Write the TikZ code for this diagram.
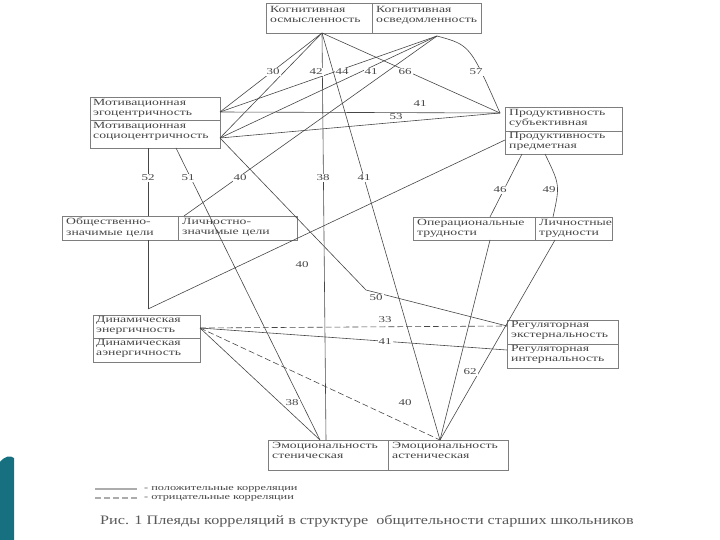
\documentclass[tikz,border=0pt]{standalone}
\usepackage{fontspec}
\setmainfont{Liberation Serif}
\newfontfamily\boxfont[FakeStretch=1.45]{Liberation Serif}
\newfontfamily\capfont[FakeStretch=1.25]{Liberation Serif}
\definecolor{ink}{RGB}{70,70,70}
\definecolor{teal1}{RGB}{22,112,128}
\begin{document}
\begin{tikzpicture}[x=1bp,y=-1bp,
  bx/.style={draw=ink!70,line width=0.7pt},
  txt/.style={font=\boxfont\fontsize{9.5}{10.5}\selectfont,text=ink,align=left,anchor=north west,inner sep=0pt},
  cn/.style={draw=ink,line width=0.6pt},
  ng/.style={draw=ink,line width=0.6pt,dash pattern=on 6pt off 3pt},
  num/.style={font=\boxfont\fontsize{9}{9}\selectfont,text=ink,fill=white,inner sep=1pt}]
\useasboundingbox (0,0) rectangle (720,540);
% teal decoration
\fill[teal1] (0,462) .. controls (5,456) and (10,455) .. (14,458) -- (14,540) -- (0,540) -- cycle;
% boxes
\draw[bx] (266,3) rectangle (481,33); \draw[bx] (372,3) -- (372,33);
\node[txt] (tKO) at (270,6) {Когнитивная\\осмысленность};
\node[txt] (tKV) at (376,6) {Когнитивная\\осведомленность};
\draw[bx] (90,97) rectangle (220,148); \draw[bx] (90,120) -- (220,120);
\node[txt] (tME) at (93,99) {Мотивационная\\эгоцентричность};
\node[txt] (tMS) at (93,122) {Мотивационная\\социоцентричность};
\draw[bx] (505,107) rectangle (622,154); \draw[bx] (505,131) -- (622,131);
\node[txt] (tPS) at (509,109) {Продуктивность\\субъективная};
\node[txt] (tPP) at (509,132) {Продуктивность\\предметная};
\draw[bx] (62,216) rectangle (297,240); \draw[bx] (178,216) -- (178,240);
\node[txt] (tOZ) at (66,218) {Общественно-\\значимые цели};
\node[txt] (tLZ) at (182,218) {Личностно-\\значимые цели};
\draw[bx] (413,217) rectangle (612,240); \draw[bx] (535,217) -- (535,240);
\node[txt] (tOT) at (417,219) {Операциональные\\трудности};
\node[txt] (tLT) at (539,219) {Личностные\\трудности};
\draw[bx] (93,315) rectangle (200,362); \draw[bx] (93,338) -- (200,338);
\node[txt] (tDE) at (96,316) {Динамическая\\энергичность};
\node[txt] (tDA) at (96,339) {Динамическая\\аэнергичность};
\draw[bx] (507,320) rectangle (618,368); \draw[bx] (507,344) -- (618,344);
\node[txt] (tRE) at (511,321) {Регуляторная\\экстернальность};
\node[txt] (tRI) at (511,345) {Регуляторная\\интернальность};
\draw[bx] (268,440) rectangle (508,470); \draw[bx] (388,440) -- (388,470);
\node[txt] (tES) at (272,442) {Эмоциональность\\стеническая};
\node[txt] (tEA) at (392,442) {Эмоциональность\\астеническая};
% hubs
\coordinate (hA) at (322,33);
\coordinate (hB) at (437,36);
\coordinate (pME) at (220,112);
\coordinate (pMS) at (220,138);
\coordinate (pPS) at (500,113);
\coordinate (pPP) at (505,140);
\coordinate (mB1) at (148,148);
\coordinate (mB2) at (176,148);
\coordinate (oT) at (148,216);
\coordinate (lT) at (184,216);
\coordinate (oB) at (148,240);
\coordinate (dT) at (148,309);
\coordinate (dR) at (200,328);
\coordinate (esT) at (320,440);
\coordinate (esV) at (326,440);
\coordinate (eaT) at (440,440);
\coordinate (ppB1) at (522,154);
\coordinate (ppB2) at (545,154);
\coordinate (otT) at (490,217);
\coordinate (ltT) at (553,217);
\coordinate (otB) at (490,240);
\coordinate (ltB) at (555,240);
\coordinate (reL) at (507,326);
\coordinate (riL) at (507,350);
\coordinate (k50) at (366,290);
% connectors
\draw[cn] (hA) -- (pME);
\draw[cn] (hA) -- (pMS);
\draw[cn] (hA) -- (esV);
\draw[cn] (hA) -- (eaT);
\draw[cn] (hA) -- (pPS);
\draw[cn] (hB) -- (pME);
\draw[cn] (hB) -- (pMS);
\draw[cn] (hB) .. controls (470,45) .. (pPS);
\draw[cn] (pME) -- (pPS);
\draw[cn] (pMS) -- (pPS);
\draw[cn] (mB1) -- (oT);
\draw[cn] (mB2) -- (esT);
\draw[cn] (lT) -- (hB);
\draw[cn] (pMS) -- (k50) -- (reL);
\draw[cn] (oB) -- (dT);
\draw[cn] (dT) -- (pPP);
\draw[cn] (ppB1) -- (otT);
\draw[cn] (ppB2) .. controls (560,185) .. (ltT);
\draw[cn] (otB) -- (eaT);
\draw[cn] (ltB) -- (eaT);
\draw[ng] (dR) -- (reL);
\draw[cn] (dR) -- (riL);
\draw[cn] (dR) -- (esT);
\draw[ng] (dR) -- (eaT);
% numbers
\node[num] (n30) at (273,72) {30};
\node[num] (n42) at (316,72) {42};
\node[num] (n44) at (342,72) {44};
\node[num] (n41a) at (371,72) {41};
\node[num] (n66) at (405,72) {66};
\node[num] (n57) at (476,72) {57};
\node[num] (n41b) at (420,104) {41};
\node[num] (n53) at (396,117) {53};
\node[num] (n52) at (148,178) {52};
\node[num] (n51) at (188,178) {51};
\node[num] (n40a) at (240,178) {40};
\node[num] (n38a) at (323,178) {38};
\node[num] (n41c) at (364,178) {41};
\node[num] (n46) at (500,190) {46};
\node[num] (n49) at (549,190) {49};
\node[num] (n40b) at (302,265) {40};
\node[num] (n50) at (376,298) {50};
\node[num] (n33) at (385,320) {33};
\node[num] (n41d) at (385,342) {41};
\node[num] (n62) at (470,372) {62};
\node[num] (n38b) at (292,403) {38};
\node[num] (n40c) at (405,403) {40};
% legend
\coordinate (lg1) at (95,489); \coordinate (lg2) at (137,489);
\coordinate (lg3) at (95,498); \coordinate (lg4) at (137,498);
\draw[ink!45,line width=1.5pt] (lg1) -- (lg2);
\draw[ink!45,line width=1.5pt,dash pattern=on 6pt off 3pt] (lg3) -- (lg4);
\node[font=\boxfont\fontsize{8.5}{9}\selectfont,text=ink,anchor=west,inner sep=0pt] (lgA) at (144,489) {- положительные корреляции};
\node[font=\boxfont\fontsize{8.5}{9}\selectfont,text=ink,anchor=west,inner sep=0pt] (lgB) at (144,498) {- отрицательные корреляции};
\node[font=\capfont\fontsize{13}{13}\selectfont,text=ink!90,anchor=west,inner sep=0pt] (cap) at (100,521) {Рис. 1 Плеяды корреляций в структуре\ \ общительности старших школьников};
\end{tikzpicture}
\end{document}
